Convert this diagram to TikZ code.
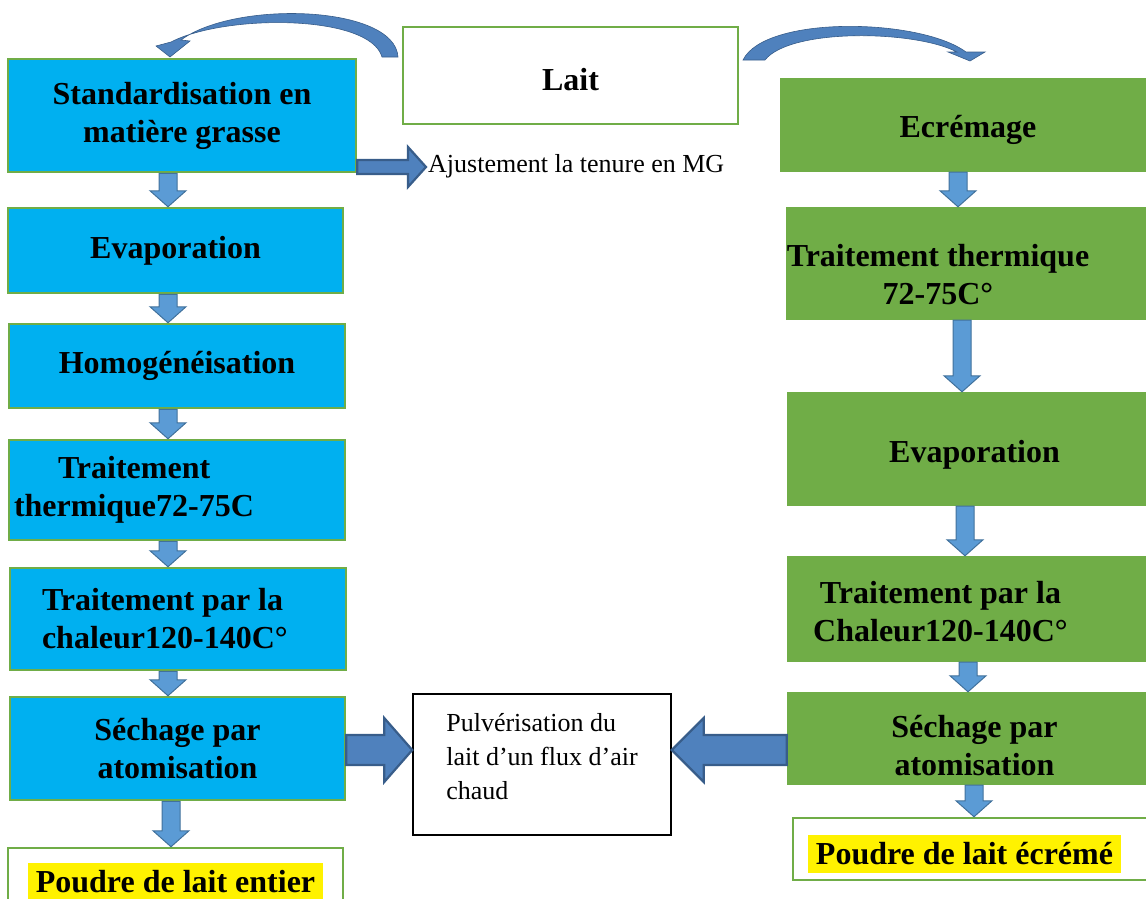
\documentclass[tikz,border=0pt]{standalone}
\usepackage{fontspec}
\setmainfont{Liberation Serif}
\usetikzlibrary{calc}
\definecolor{bluebox}{HTML}{00B0F0}
\definecolor{greenbox}{HTML}{70AD47}
\definecolor{greenline}{HTML}{70AD47}
\definecolor{arrfill}{HTML}{5B9BD5}
\definecolor{arrline}{HTML}{41719C}
\definecolor{bigfill}{HTML}{4F81BD}
\definecolor{bigline}{HTML}{385D8A}
\newcommand{\bigb}{\fontsize{32}{38}\selectfont\bfseries}
\newcommand{\reg}{\fontsize{26}{34}\selectfont}
\newcommand{\hl}[1]{{\setlength{\fboxsep}{8pt}\colorbox{yellow}{#1}}}
\tikzset{
 bbox/.style={draw=greenline, line width=2.5pt, fill=bluebox, font=\bigb, align=center, inner sep=0pt},
 gbox/.style={fill=greenbox, font=\bigb, align=center, inner sep=0pt},
 wbox/.style={draw=greenline, line width=2.5pt, fill=white, font=\bigb, align=center, inner sep=0pt},
 kbox/.style={draw=black, line width=1.5pt, fill=white, inner sep=0pt},
 txt/.style={font=\bigb, align=center, inner sep=0pt},
 darr/.style={fill=arrfill, draw=arrline, line width=1pt, line join=miter},
 harr/.style={fill=bigfill, draw=bigline, line width=2.2pt, line join=miter},
 carr/.style={fill=bigfill, draw=bigline, line width=0.6pt},
}
% down block arrow: x, from node, to node
\newcommand{\darrow}[3]{%
 \filldraw[darr] let \p1=(#2.south), \p2=(#3.north), \p3=(#1,0) in
 ({\x3-9pt},{\y1}) -- ({\x3-9pt},{\y2+16pt}) -- ({\x3-18pt},{\y2+16pt}) -- ({\x3},{\y2})
 -- ({\x3+18pt},{\y2+16pt}) -- ({\x3+9pt},{\y2+16pt}) -- ({\x3+9pt},{\y1}) -- cycle;}
% horizontal block arrow: style, y, from anchor, to anchor, shaft half, head half, head length
\newcommand{\harrow}[7]{%
 \filldraw[#1] let \p1=(#3), \p2=(#4), \p3=(0,#2), \n1={sign(\x2-\x1)} in
 ({\x1},{\y3+#5pt}) -- ({\x2-\n1*#7pt},{\y3+#5pt}) -- ({\x2-\n1*#7pt},{\y3+#6pt}) -- ({\x2},{\y3})
 -- ({\x2-\n1*#7pt},{\y3-#6pt}) -- ({\x2-\n1*#7pt},{\y3-#5pt}) -- ({\x1},{\y3-#5pt}) -- cycle;}
\begin{document}
\begin{tikzpicture}[x=1pt,y=-1pt]
\useasboundingbox (0,0) rectangle (1146,898);
\clip (0,0) rectangle (1146,898);

% left column
\node[bbox, minimum width=348pt, minimum height=113pt] (b1) at (182,115.5) {Standardisation en\\matière grasse};
\node[bbox, minimum width=335pt, minimum height=85pt] (b2) at (175.5,250.5) {Evaporation};
\node[bbox, minimum width=336pt, minimum height=84pt] (b3) at (177,366) {Homogénéisation};
\node[bbox, minimum height=100pt, text width=326pt, inner xsep=5pt, align=flush left] (b4) at (177,490) {\hspace*{44pt}Traitement\\thermique72-75C};
\node[bbox, minimum height=102pt, text width=272pt, inner xsep=32pt, align=flush left] (b5) at (178,619) {Traitement par la\\chaleur120-140C°};
\node[bbox, minimum width=335pt, minimum height=103pt] (b6) at (177.5,748.5) {Séchage par\\atomisation};
\node[wbox, minimum width=335pt, minimum height=68pt] (b7) at (175.5,882) {\hl{Poudre de lait entier}};

% top
\node[wbox, minimum width=335pt, minimum height=97pt, label={[txt, name=laitt, yshift=-4pt]center:Lait}] (lait) at (570.5,75.5) {};

% right column
\node[gbox, minimum width=370pt, minimum height=94pt, label={[txt, name=r1t, xshift=3pt, yshift=-5pt]center:Ecrémage}] (r1) at (965,125) {};
\node[gbox, minimum width=364pt, minimum height=113pt, label={[txt, name=r2t, xshift=-30pt, yshift=-11pt]center:Traitement thermique\\72-75C°}] (r2) at (968,263.5) {};
\node[gbox, minimum width=363pt, minimum height=114pt, label={[txt, name=r3t, xshift=6pt, yshift=-6pt]center:Evaporation}] (r3) at (968.5,449) {};
\node[gbox, minimum width=363pt, minimum height=106pt, label={[txt, name=r4t, xshift=-28pt, yshift=-3pt]center:Traitement par la\\Chaleur120-140C°}] (r4) at (968.5,609) {};
\node[gbox, minimum width=363pt, minimum height=93pt, label={[txt, name=r5t, xshift=6pt, yshift=-7pt]center:Séchage par\\atomisation}] (r5) at (968.5,738.5) {};
\node[wbox, minimum width=357pt, minimum height=62pt, label={[txt, name=r6t, xshift=-7pt, yshift=-5pt]center:\hl{Poudre de lait écrémé}}] (r6) at (971.5,849) {};

% middle
\node[kbox, minimum width=258pt, minimum height=141pt, label={[name=pulvt, font=\reg, align=left, inner sep=0pt, yshift=8pt]center:Pulvérisation du\\lait d’un flux d’air\\chaud}] (pulv) at (542,764.5) {};
\node[font=\reg, anchor=west, inner sep=2pt] (adj) at (426,166) {Ajustement la tenure en MG};

% down arrows left
\darrow{168}{b1}{b2}
\darrow{168}{b2}{b3}
\darrow{168}{b3}{b4}
\darrow{168}{b4}{b5}
\darrow{168}{b5}{b6}
\darrow{171}{b6}{b7}
% down arrows right
\darrow{958}{r1}{r2}
\darrow{962}{r2}{r3}
\darrow{965}{r3}{r4}
\darrow{968}{r4}{r5}
\darrow{974}{r5}{r6}

% horizontal arrows
\harrow{harr}{167}{b1.east}{adj.west}{7}{20}{18}
\harrow{harr}{750}{b6.east}{pulv.west}{15}{32}{28}
\harrow{harr}{750}{r5.west}{pulv.east}{15}{32}{32}

% curved arrows from Lait
\filldraw[carr] (398,57) .. controls (395,5) and (235,0) .. (181,40) -- (190,41) -- (170,57) -- (156,46) -- (171,42) .. controls (225,14) and (370,14) .. (382,57) -- cycle;
\filldraw[carr] (743,60) .. controls (765,15) and (920,18) .. (966,52) -- (985,52) -- (970,61) -- (948,52) -- (957,52) .. controls (915,30) and (790,28) .. (765,60) -- cycle;
\end{tikzpicture}
\end{document}
